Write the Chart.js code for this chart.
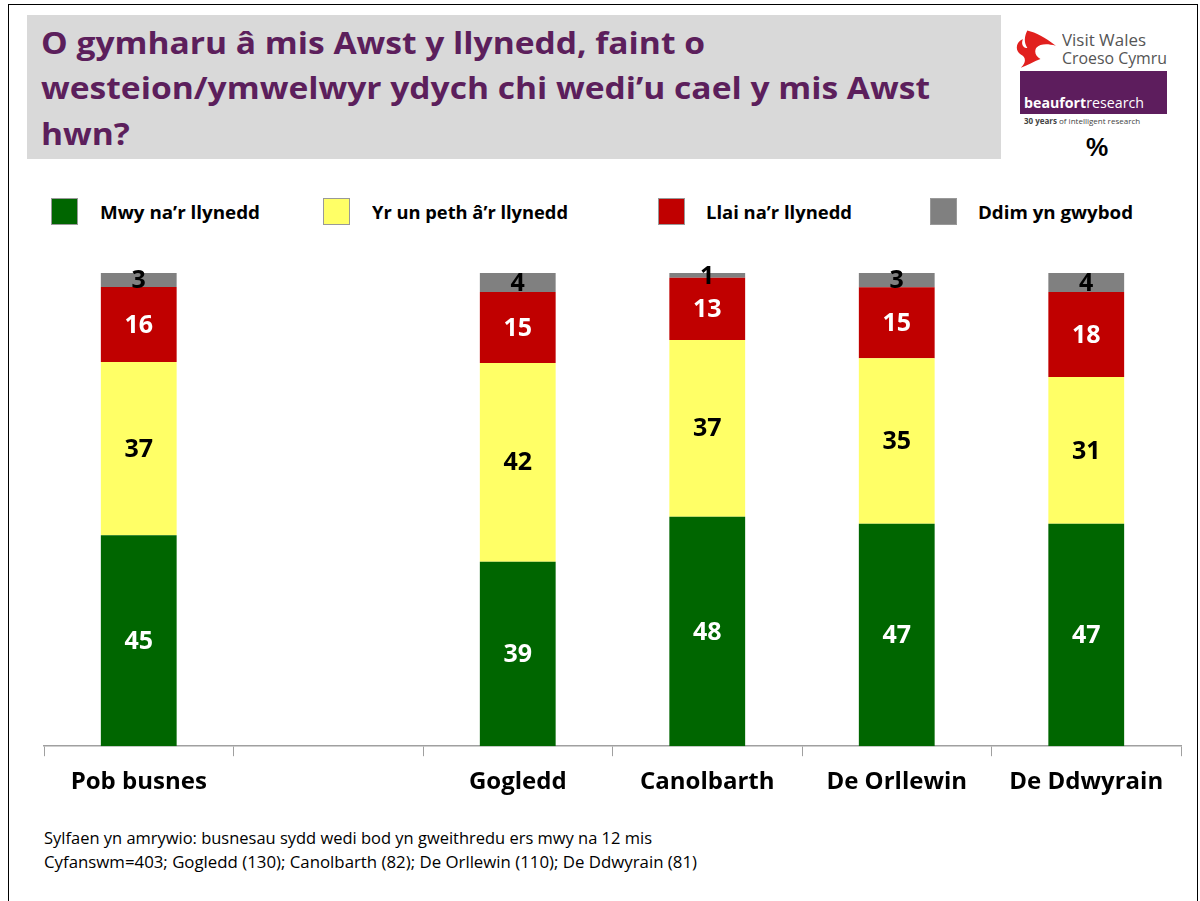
<!DOCTYPE html>
<html>
<head>
<meta charset="utf-8">
<script src="https://cdn.jsdelivr.net/npm/chart.js@4.4.1/dist/chart.umd.min.js"></script>
<style>
  html, body { margin:0; padding:0; background:#fff; }
  body { width:1200px; height:901px; position:relative; overflow:hidden; font-family: "Open Sans", Lato, sans-serif; }
  .frame { position:absolute; left:8px; top:4px; width:1190px; height:910px; border:1px solid #000; box-sizing:border-box; }
  .titlebox { position:absolute; left:27px; top:15px; width:974px; height:144px; background:#d9d9d9; }
  .tl { position:absolute; left:41px; white-space:nowrap; font-weight:bold; font-size:31px; line-height:45.5px; color:#5c1f5c; transform-origin:0 50%; }
  .fit { display:inline-block; white-space:nowrap; transform-origin:0 50%; }
  .vw { position:absolute; left:1062px; top:31px; font-size:17px; line-height:18px; color:#555; }
  .beau { position:absolute; left:1020px; top:71px; width:147px; height:43px; background:#5d1d5d; }
  .beautxt { position:absolute; left:1024px; top:92px; color:#fff; font-size:15px; }
  .tag { position:absolute; left:1024px; top:115px; font-size:8px; color:#444; }
  .pct { position:absolute; left:1086px; top:133px; font-size:25px; font-weight:bold; color:#000; font-family:Arial, "Liberation Sans", sans-serif; }
  .lg { position:absolute; top:198px; height:28px; line-height:28px; font-weight:bold; font-size:18px; color:#000; }
  .sw { position:absolute; top:198px; width:25px; height:25px; border:1.5px solid #999; }
  .foot { position:absolute; left:44px; font-size:15.5px; line-height:22px; color:#000; }
  #wrap { position:absolute; left:0; top:240px; width:1200px; height:580px; }
</style>
</head>
<body>
<div class="frame"></div>
<div class="titlebox"></div>
<div class="tl" style="top:19.5px"><span class="fit title-line">O gymharu â mis Awst y llynedd, faint o</span></div>
<div class="tl" style="top:65px"><span class="fit title-line" id="tref">westeion/ymwelwyr ydych chi wedi’u cael y mis Awst</span></div>
<div class="tl" style="top:110.5px"><span class="fit title-line">hwn?</span></div>
<svg style="position:absolute;left:1012px;top:28px" width="46" height="40" viewBox="0 0 42 36">
  <path d="M14 2 C22 4 30 8 40 16 C32 14 26 14 22 18 C20 22 22 26 26 28 C20 30 14 34 8 36 C14 30 12 26 8 24 C2 20 4 12 10 10 C8 14 10 18 14 18 C10 12 12 6 14 2 Z" fill="#e1201e"/>
</svg>
<div class="vw"><span class="fit" data-w="84">Visit Wales</span><br><span class="fit" data-w="105">Croeso Cymru</span></div>
<div class="beau"></div>
<div class="beautxt"><span class="fit" data-w="120"><b>beaufort</b>research</span></div>
<div class="tag"><b>30 years</b> of intelligent research</div>
<div class="pct">%</div>

<div class="sw" style="left:51px;background:#006600"></div><div class="lg" style="left:100px"><span class="fit" data-w="160">Mwy na’r llynedd</span></div>
<div class="sw" style="left:323px;background:#ffff66"></div><div class="lg" style="left:372px"><span class="fit" data-w="196">Yr un peth â’r llynedd</span></div>
<div class="sw" style="left:658px;background:#c00000"></div><div class="lg" style="left:706px"><span class="fit" data-w="146">Llai na’r llynedd</span></div>
<div class="sw" style="left:930px;background:#808080"></div><div class="lg" style="left:978px"><span class="fit" data-w="155">Ddim yn gwybod</span></div>

<div id="wrap"><canvas id="c" width="1200" height="580"></canvas></div>

<div class="foot" style="top:827px"><span class="fit" data-w="608">Sylfaen yn amrywio: busnesau sydd wedi bod yn gweithredu ers mwy na 12 mis</span></div>
<div class="foot" style="top:851px"><span class="fit" data-w="653">Cyfanswm=403; Gogledd (130); Canolbarth (82); De Orllewin (110); De Ddwyrain (81)</span></div>

<script>
// fit text widths
document.querySelectorAll('.fit[data-w]').forEach(el => {
  const w = el.getBoundingClientRect().width;
  const t = parseFloat(el.dataset.w);
  if (w > 0) el.style.transform = 'scaleX(' + (t / w) + ')';
});
(function(){
  const ref = document.getElementById('tref');
  const s = 889 / ref.getBoundingClientRect().width;
  document.querySelectorAll('.title-line').forEach(el => el.style.transform = 'scaleX(' + s + ')');
})();

const categories = ['Pob busnes', '', 'Gogledd', 'Canolbarth', 'De Orllewin', 'De Ddwyrain'];
const seriesNames = ['Mwy na’r llynedd', 'Yr un peth â’r llynedd', 'Llai na’r llynedd', 'Ddim yn gwybod'];
const mwy   = [45, null, 39, 48, 47, 47];
const yrun  = [37, null, 42, 37, 35, 31];
const llai  = [16, null, 15, 13, 15, 18];
const ddim  = [3,  null, 4,  1,  3,  4];
const colors = ['#006600', '#ffff66', '#c00000', '#808080'];
const labelColors = ['#ffffff', '#000000', '#ffffff', '#000000'];

const seriesData = [mwy, yrun, llai, ddim];
// 100% stacked: each column is shown as share of its total
const totals = categories.map((_, j) => seriesData.reduce((s, d) => s + (d[j] || 0), 0));
const pct = seriesData.map(d => d.map((v, j) => v === null ? null : v / totals[j] * 100));

const labelPlugin = {
  id: 'segLabels',
  afterDatasetsDraw(chart) {
    const ctx = chart.ctx;
    ctx.save();
    ctx.font = 'bold 25px "Open Sans", sans-serif';
    ctx.textAlign = 'center';
    ctx.textBaseline = 'middle';
    chart.data.datasets.forEach((ds, i) => {
      const meta = chart.getDatasetMeta(i);
      meta.data.forEach((el, j) => {
        const v = seriesData[i][j];
        if (v === null || v === undefined) return;
        ctx.fillStyle = labelColors[i];
        ctx.fillText(String(v), el.x, (el.y + el.base) / 2 + 1);
      });
    });
    ctx.restore();
  }
};

new Chart(document.getElementById('c'), {
  type: 'bar',
  data: {
    labels: categories,
    datasets: pct.map((d, i) => ({
      label: seriesNames[i],
      data: d,
      backgroundColor: colors[i],
      borderWidth: 0,
      categoryPercentage: 1,
      barPercentage: 0.4
    }))
  },
  options: {
    responsive: false,
    animation: false,
    devicePixelRatio: 1,
    layout: { padding: { left: 44, right: 19, top: 33, bottom: 11 } },
    plugins: { legend: { display: false }, tooltip: { enabled: false } },
    scales: {
      x: {
        stacked: true,
        grid: { display: true, drawOnChartArea: false, drawTicks: true, tickLength: 10, color: '#a0a0a0', offset: true, lineWidth: 1 },
        border: { display: true, color: '#a0a0a0', width: 1.5 },
        ticks: { color: '#000', font: { family: 'Open Sans', weight: 'bold', size: 24 }, padding: 12, maxRotation: 0, autoSkip: false }
      },
      y: {
        stacked: true,
        display: false,
        min: 0,
        max: 100
      }
    }
  },
  plugins: [labelPlugin]
});
</script>
</body>
</html>
